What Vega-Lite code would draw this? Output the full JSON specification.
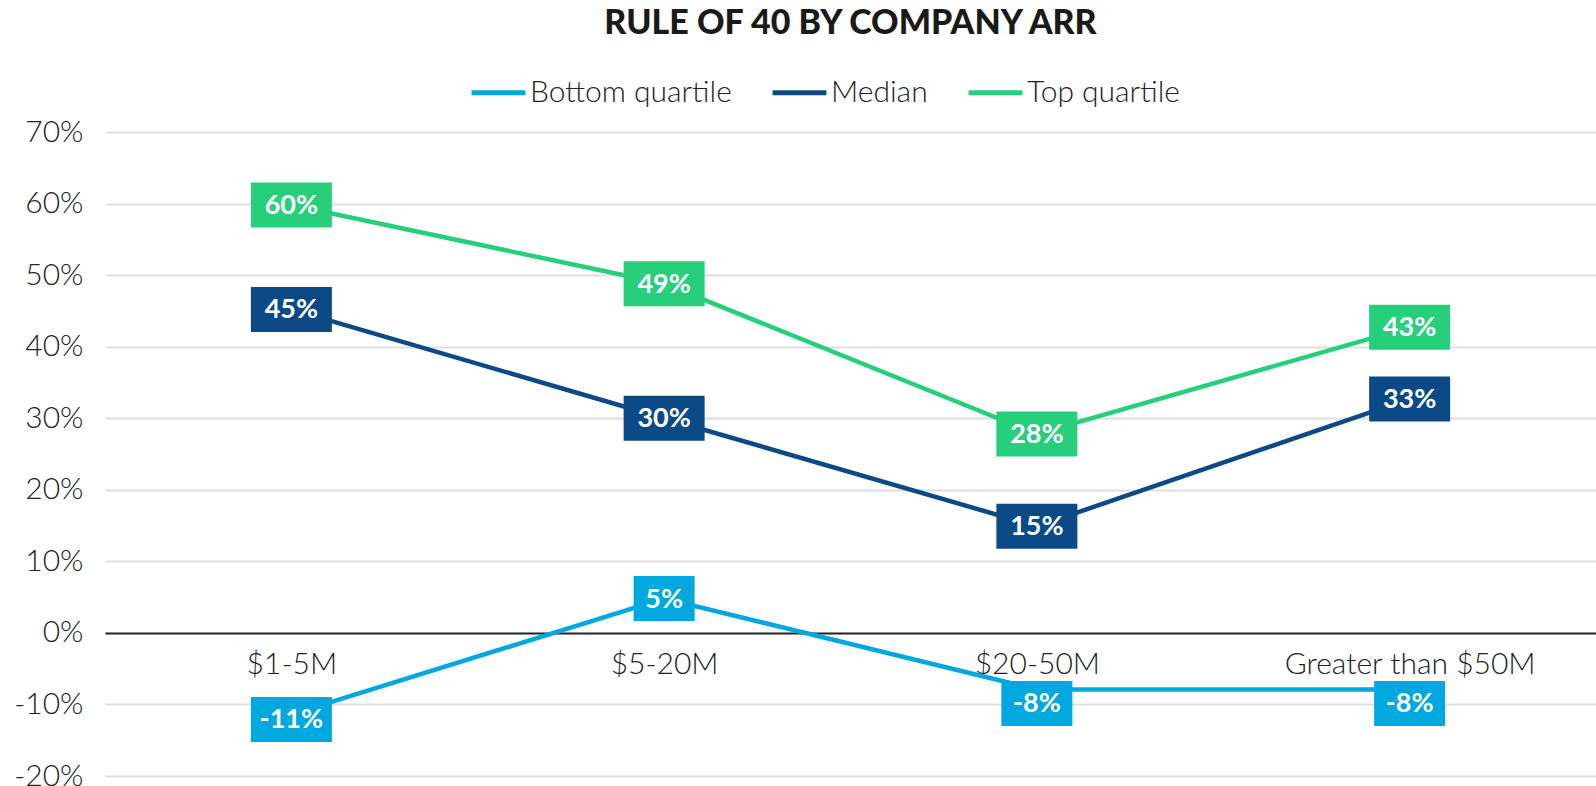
{
  "$schema": "https://vega.github.io/schema/vega-lite/v6.json",
  "width": 1491,
  "height": 644,
  "autosize": {"type": "none"},
  "padding": {"left": 105, "top": 132, "right": 0, "bottom": 10},
  "background": "white",
  "title": {"text": "RULE OF 40 BY COMPANY ARR", "fontSize": 34, "font": "Lato", "fontWeight": 900, "color": "#1a1a1a", "anchor": "middle", "offset": 22, "limit": 1200},
  "config": {
    "view": {"stroke": null},
    "font": "Lato",
    "locale": {"number": {"decimal": ".", "thousands": ",", "grouping": [3], "currency": ["$", ""], "minus": "-"}}
  },
  "data": {"values": [
    {"size": "$1-5M", "series": "Bottom quartile", "value": -0.114},
    {"size": "$5-20M", "series": "Bottom quartile", "value": 0.048},
    {"size": "$20-50M", "series": "Bottom quartile", "value": -0.079},
    {"size": "Greater than $50M", "series": "Bottom quartile", "value": -0.079},
    {"size": "$1-5M", "series": "Median", "value": 0.452},
    {"size": "$5-20M", "series": "Median", "value": 0.30},
    {"size": "$20-50M", "series": "Median", "value": 0.149},
    {"size": "Greater than $50M", "series": "Median", "value": 0.327},
    {"size": "$1-5M", "series": "Top quartile", "value": 0.598},
    {"size": "$5-20M", "series": "Top quartile", "value": 0.488},
    {"size": "$20-50M", "series": "Top quartile", "value": 0.278},
    {"size": "Greater than $50M", "series": "Top quartile", "value": 0.427}
  ]},
  "encoding": {
    "x": {
      "field": "size", "type": "nominal",
      "sort": ["$1-5M", "$5-20M", "$20-50M", "Greater than $50M"],
      "scale": {"type": "point", "padding": 0.5},
      "axis": {"title": null, "orient": "bottom", "offset": -143, "domain": false, "ticks": false, "tickSize": 0, "labelPadding": 16, "labelFontSize": 30, "labelFont": "Lato", "labelFontWeight": 300, "labelColor": "#222222", "labelAngle": 0, "grid": false, "labelLimit": 400}
    },
    "y": {
      "field": "value", "type": "quantitative",
      "scale": {"domain": [-0.2, 0.7], "nice": false, "zero": false},
      "axis": {"title": null, "format": ".0%", "values": [-0.2, -0.1, 0, 0.1, 0.2, 0.3, 0.4, 0.5, 0.6, 0.7], "domain": false, "ticks": false, "labelPadding": 22, "labelFontSize": 30, "labelFont": "Lato", "labelFontWeight": 300, "labelColor": "#222222", "gridWidth": 2, "gridColor": {"condition": {"test": "datum.value === 0", "value": "#222222"}, "value": "#dedede"}}
    }
  },
  "layer": [
    {
      "mark": {"type": "line", "strokeWidth": 4.5},
      "encoding": {
        "color": {
          "field": "series", "type": "nominal",
          "scale": {"domain": ["Bottom quartile", "Median", "Top quartile"], "range": ["#00A8DF", "#0B4A87", "#27CF7D"]},
          "legend": {"title": null, "orient": "none", "legendX": 364, "legendY": -69, "direction": "horizontal", "symbolType": "stroke", "symbolSize": 2900, "symbolStrokeWidth": 5, "labelFontSize": 30, "labelFont": "Lato", "labelFontWeight": 300, "labelColor": "#222222", "columnPadding": 30, "labelOffset": 2, "labelLimit": 400}
        }
      }
    },
    {
      "mark": {"type": "point", "filled": true, "opacity": 1, "strokeWidth": 0, "yOffset": {"expr": "datum.value < 0 ? (datum.value > -0.095 ? 14 : 5) : 0"}},
      "encoding": {
        "fill": {
          "field": "series", "type": "nominal",
          "scale": {"domain": ["Bottom quartile", "Median", "Top quartile"], "range": ["#00A8DF", "#0B4A87", "#27CF7D"]},
          "legend": null
        },
        "shape": {
          "condition": [
            {"test": "datum.value >= 0 && datum.value < 0.095", "value": "M-1,-0.738L1,-0.738L1,0.738L-1,0.738Z"},
            {"test": "datum.value < 0 && datum.value > -0.095", "value": "M-1,-0.634L1,-0.634L1,0.634L-1,0.634Z"}
          ],
          "value": "M-1,-0.556L1,-0.556L1,0.556L-1,0.556Z"
        },
        "size": {
          "condition": [
            {"test": "datum.value >= 0 && datum.value < 0.095", "value": 3721},
            {"test": "datum.value < 0 && datum.value > -0.095", "value": 5041}
          ],
          "value": 6561
        }
      }
    },
    {
      "mark": {"type": "text", "font": "Lato", "fontWeight": "bold", "fontSize": 27, "baseline": "middle", "align": "center", "yOffset": {"expr": "datum.value < 0 ? (datum.value > -0.095 ? 15 : 6) : 1"}},
      "encoding": {
        "text": {"field": "value", "type": "quantitative", "format": ".0%"},
        "color": {"value": "white"}
      }
    }
  ]
}
